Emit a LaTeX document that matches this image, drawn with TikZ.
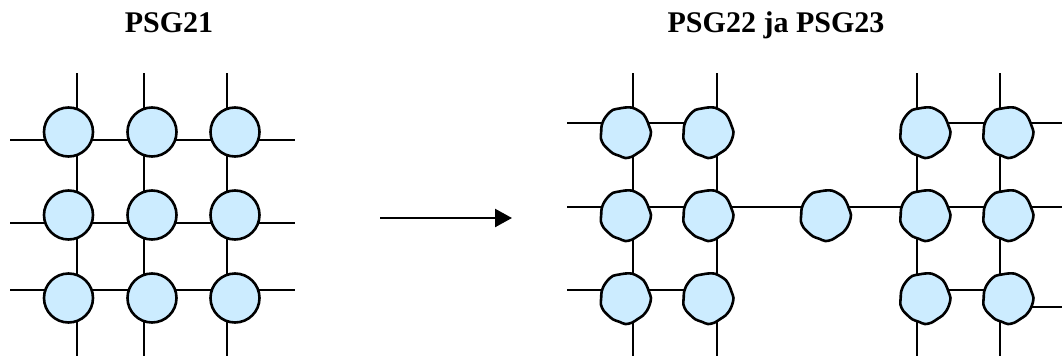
\documentclass[tikz,border=0pt]{standalone}
\usepackage{fontspec}
\setmainfont{Liberation Serif}
\usetikzlibrary{arrows.meta}
\definecolor{nodefill}{HTML}{CCECFF}
\tikzset{
  wire/.style={line width=2.4pt, black},
  pe/.style={circle, draw=black, line width=2.6pt, fill=nodefill,
             minimum size=49pt, inner sep=0pt},
  ghost/.style={circle, minimum size=51pt, inner sep=0pt},
  outline/.style={draw=black, line width=2.6pt, fill=nodefill},
  title/.style={font=\fontsize{30}{36}\selectfont\bfseries, anchor=base,
             inner sep=0pt},
}
% a slightly irregular, hand-drawn processing element
\newcommand\roughpe[3]{%
  \node[ghost] (#1) at (#2,#3) {};
  \draw[outline, shift={(#1.center)}]
    plot[smooth cycle, samples=24, domain=0:345, variable=\t]
      ({\t}:{24.9+0.45*sin(5*\t+30)+0.35*cos(9*\t)+0.8*max(0,cos(6*(\t-90)))*(abs(\t-90)<20)});
}
\begin{document}
\begin{tikzpicture}[x=1pt, y=-1pt]
  \useasboundingbox (0,0) rectangle (1062,356);

  % headings
  \node[title] (t1) at (169,32) {PSG21};
  \node[title] (t2) at (776,32) {PSG22 ja PSG23};

  % ---- full 3x3 mesh: wiring ----
  \foreach \x [count=\i] in {77,144,227} {
    \coordinate (Lv\i t) at (\x,73);
    \coordinate (Lv\i b) at (\x,356);
    \draw[wire] (Lv\i t) -- (Lv\i b);
  }
  \foreach \y [count=\i] in {140,223,290} {
    \coordinate (Lh\i l) at (10,\y);
    \coordinate (Lh\i r) at (295,\y);
    \draw[wire] (Lh\i l) -- (Lh\i r);
  }
  % ---- full 3x3 mesh: processing elements ----
  \foreach \x [count=\c] in {68.5,152,235} {
    \foreach \y [count=\r] in {132,215,298} {
      \node[pe] (L\r\c) at (\x,\y) {};
    }
  }

  % ---- arrow between the two meshes ----
  \coordinate (as) at (380,218);
  \coordinate (ae) at (512,218);
  \draw[wire, -{Triangle[length=17pt,width=18pt]}] (as) -- (ae);

  % ---- partitioned mesh: wiring ----
  \foreach \x [count=\i] in {633,717,917,1000} {
    \coordinate (Rv\i t) at (\x,73);
    \coordinate (Rv\i b) at (\x,356);
    \draw[wire] (Rv\i t) -- (Rv\i b);
  }
  \coordinate (h1a) at (567,123);  \coordinate (h1b) at (708,123);
  \coordinate (h2a) at (567,207);  \coordinate (h2b) at (1062,207);
  \coordinate (h3a) at (567,290);  \coordinate (h3b) at (708,290);
  \coordinate (h4a) at (925,123);  \coordinate (h4b) at (1062,123);
  \coordinate (h5a) at (925,290);  \coordinate (h5b) at (1008,290);
  \coordinate (h6a) at (1008,307); \coordinate (h6b) at (1062,307);
  \foreach \n in {1,...,6} { \draw[wire] (h\n a) -- (h\n b); }

  % ---- partitioned mesh: processing elements ----
  \foreach \x [count=\c] in {625.5,708} {
    \foreach \y [count=\r] in {132,215,298} {
      \roughpe{A\r\c}{\x}{\y}
    }
  }
  \roughpe{M}{825.5}{215}
  \foreach \x [count=\c] in {925,1008} {
    \foreach \y [count=\r] in {132,215,298} {
      \roughpe{B\r\c}{\x}{\y}
    }
  }
\end{tikzpicture}
\end{document}
